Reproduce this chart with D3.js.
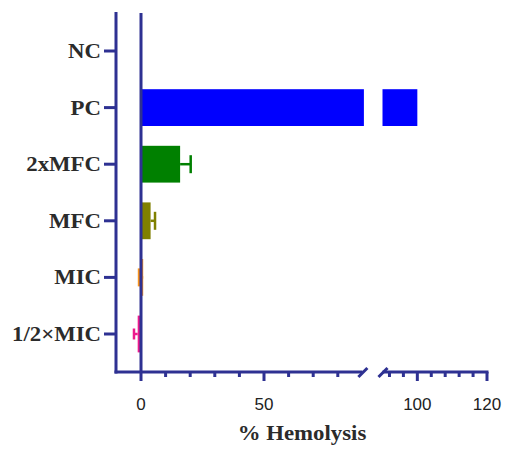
<!DOCTYPE html>
<html>
<head>
<meta charset="utf-8">
<script src="https://cdn.jsdelivr.net/npm/d3@7"></script>
<style>
html,body{margin:0;padding:0;background:#fff;}
svg{display:block;}
</style>
</head>
<body>
<svg id="chart" width="506" height="449"></svg>
<script>
// ---- data ----
const categories = ["NC", "PC", "2xMFC", "MFC", "MIC", "1/2\u00D7MIC"];
const values     = [0, 100, 15.9, 3.9, 0.9, -1.35];
const errorEnds  = [null, null, 20.2, 5.7, -0.8, -2.85];
const barColors  = ["#2e3192", "#0000ff", "#008000", "#808000", "#f7931e", "#ec1a8c"];
const majorTicks1 = [0, 50];
const minorTicks1 = [10, 20, 30, 40, 60, 70, 80];
const majorTicks2 = [100, 120];
const minorTicks2 = [92, 96, 104, 108, 112, 116];
const xTitle = "% Hemolysis";

// ---- layout ----
const navy = "#2e3192";
const svg = d3.select("#chart");
const axisTop = 12, axisBottom = 372, axisLeft = 116;

const y = d3.scaleBand().domain(categories).range([22.7, 362.3])
  .paddingInner(0.35).paddingOuter(0.175);
const x1 = d3.scaleLinear().domain([-10, 90]).range([116.4, 362.4]);
const x2 = d3.scaleLinear().domain([90, 120]).range([382.5, 487]);

const g = svg.append("g");

// bars
categories.forEach((c, i) => {
  const v = values[i];
  if (v === 0) return;
  const y0 = y(c), h = y.bandwidth();
  if (v <= 90) {
    const a = x1(0), b = x1(v);
    g.append("rect").attr("x", Math.min(a, b)).attr("y", y0)
      .attr("width", Math.abs(b - a)).attr("height", h).attr("fill", barColors[i]);
  } else {
    g.append("rect").attr("x", x1(0)).attr("y", y0)
      .attr("width", x1(90) + 1.5 - x1(0)).attr("height", h).attr("fill", barColors[i]);
    g.append("rect").attr("x", x2(90)).attr("y", y0)
      .attr("width", x2(v) - x2(90)).attr("height", h).attr("fill", barColors[i]);
  }
  const e = errorEnds[i];
  if (e !== null) {
    const cy = y0 + h / 2;
    g.append("line").attr("x1", x1(v)).attr("x2", x1(e)).attr("y1", cy).attr("y2", cy)
      .attr("stroke", barColors[i]).attr("stroke-width", 2.5);
    const cap = i === 5 ? 11 : 18;
    g.append("line").attr("x1", x1(e)).attr("x2", x1(e)).attr("y1", cy - cap / 2).attr("y2", cy + cap / 2)
      .attr("stroke", barColors[i]).attr("stroke-width", 2.5);
  }
});

// zero line
g.append("line").attr("x1", x1(0)).attr("x2", x1(0)).attr("y1", axisTop + 1).attr("y2", axisBottom)
  .attr("stroke", navy).attr("stroke-width", 3);

// left axis
g.append("line").attr("x1", axisLeft).attr("x2", axisLeft).attr("y1", axisTop).attr("y2", axisBottom + 1.5)
  .attr("stroke", navy).attr("stroke-width", 3);
categories.forEach(c => {
  const cy = y(c) + y.bandwidth() / 2;
  g.append("line").attr("x1", axisLeft - 12).attr("x2", axisLeft).attr("y1", cy).attr("y2", cy)
    .attr("stroke", navy).attr("stroke-width", 3);
  g.append("text").attr("transform", `translate(101,${cy + 7}) scale(1.14,1)`)
    .attr("text-anchor", "end")
    .attr("font-family", "'Liberation Serif','Times New Roman',serif")
    .attr("font-weight", "bold").attr("font-size", 20).attr("fill", "#2b2b2b")
    .text(c);
});

// bottom axis segment 1
g.append("line").attr("x1", axisLeft - 1.5).attr("x2", x1(90)).attr("y1", axisBottom).attr("y2", axisBottom)
  .attr("stroke", navy).attr("stroke-width", 3);
// segment 2
g.append("line").attr("x1", x2(90)).attr("x2", x2(120) + 1.5).attr("y1", axisBottom).attr("y2", axisBottom)
  .attr("stroke", navy).attr("stroke-width", 3);
// break marks
[x1(90), x2(90)].forEach(bx => {
  g.append("line").attr("x1", bx - 4).attr("x2", bx + 5).attr("y1", axisBottom + 5).attr("y2", axisBottom - 4)
    .attr("stroke", navy).attr("stroke-width", 3);
});

function tick(xp, len) {
  g.append("line").attr("x1", xp).attr("x2", xp).attr("y1", axisBottom).attr("y2", axisBottom + len)
    .attr("stroke", navy).attr("stroke-width", 3);
}
majorTicks1.forEach(t => tick(x1(t), 9));
minorTicks1.forEach(t => tick(x1(t), 5));
majorTicks2.forEach(t => tick(x2(t), 9));
minorTicks2.forEach(t => tick(x2(t), 5));

const tickLabels = majorTicks1.map(t => [x1(t), t]).concat(majorTicks2.map(t => [x2(t), t]));
tickLabels.forEach(([xp, t]) => {
  g.append("text").attr("x", xp).attr("y", 410).attr("text-anchor", "middle")
    .attr("font-family", "'Liberation Sans',Arial,sans-serif")
    .attr("font-size", 17).attr("fill", "#222").text(t);
});

// title
g.append("text").attr("transform", `translate(302,440) scale(1.14,1)`)
  .attr("text-anchor", "middle")
  .attr("font-family", "'Liberation Serif','Times New Roman',serif")
  .attr("font-weight", "bold").attr("font-size", 20).attr("fill", "#2b2b2b")
  .text(xTitle);
</script>
</body>
</html>
